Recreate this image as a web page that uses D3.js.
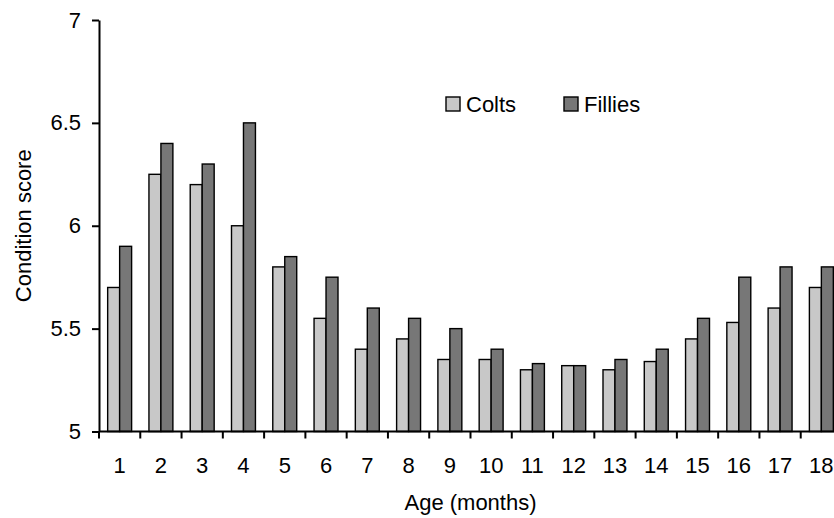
<!DOCTYPE html>
<html>
<head>
<meta charset="utf-8">
<script src="https://cdn.jsdelivr.net/npm/d3@7"></script>
<style>
  html, body { margin: 0; padding: 0; background: #fff; }
  svg { display: block; font-family: "Liberation Sans", Arial, sans-serif; }
</style>
</head>
<body>
<svg id="chart" width="834" height="518"></svg>
<script>
const categories = ["1","2","3","4","5","6","7","8","9","10","11","12","13","14","15","16","17","18"];
const seriesNames = ["Colts", "Fillies"];
const colts   = [5.70, 6.25, 6.20, 6.00, 5.80, 5.55, 5.40, 5.45, 5.35, 5.35, 5.30, 5.32, 5.30, 5.34, 5.45, 5.53, 5.60, 5.70];
const fillies = [5.90, 6.40, 6.30, 6.50, 5.85, 5.75, 5.60, 5.55, 5.50, 5.40, 5.33, 5.32, 5.35, 5.40, 5.55, 5.75, 5.80, 5.80];
const yTicks = [5, 5.5, 6, 6.5, 7];
const colors = ["#c8c8c8", "#777777"];

const svg = d3.select("#chart");
const mLeft = 99, mRight = 842, mTop = 20, mBottom = 431.5;
const fontSize = 22;

const x = d3.scaleBand().domain(categories).range([mLeft, mRight]).padding(0);
const x1 = d3.scaleBand().domain(seriesNames).range([x.bandwidth() * 0.21, x.bandwidth() * 0.79]).padding(0);
const y = d3.scaleLinear().domain([5, 7]).range([mBottom, mTop]);

const data = categories.map((c, i) => ({ cat: c, values: [colts[i], fillies[i]] }));

// bars
const groups = svg.append("g").selectAll("g").data(data).join("g")
  .attr("transform", d => `translate(${x(d.cat)},0)`);
groups.selectAll("rect").data(d => d.values.map((v, j) => ({ s: seriesNames[j], v, j })))
  .join("rect")
  .attr("x", d => x1(d.s))
  .attr("width", x1.bandwidth())
  .attr("y", d => y(d.v))
  .attr("height", d => y(5) - y(d.v))
  .attr("fill", d => colors[d.j])
  .attr("stroke", "#000")
  .attr("stroke-width", 1.4);

// y axis
const yAxis = svg.append("g").attr("transform", `translate(${mLeft},0)`)
  .call(d3.axisLeft(y).tickValues(yTicks).tickFormat(d3.format("~g")).tickSize(7).tickPadding(11).tickSizeOuter(0));
yAxis.select(".domain").attr("stroke", "#000").attr("stroke-width", 2);
yAxis.selectAll(".tick line").attr("stroke", "#000").attr("stroke-width", 2);
yAxis.selectAll("text").attr("font-size", fontSize).attr("fill", "#000").attr("font-family", "Liberation Sans, Arial, sans-serif");

// x axis
const xg = svg.append("g").attr("transform", `translate(0,${mBottom})`);
xg.append("line").attr("x1", mLeft).attr("x2", mRight).attr("y1", 0).attr("y2", 0)
  .attr("stroke", "#000").attr("stroke-width", 2);
const boundaries = categories.map(c => x(c)).concat([x(categories[categories.length - 1]) + x.bandwidth()]);
xg.selectAll("line.tk").data(boundaries).join("line").attr("class", "tk")
  .attr("x1", d => d).attr("x2", d => d).attr("y1", 0).attr("y2", 7)
  .attr("stroke", "#000").attr("stroke-width", 2);
xg.selectAll("text").data(categories).join("text")
  .attr("x", d => x(d) + x.bandwidth() / 2)
  .attr("y", 41)
  .attr("text-anchor", "middle")
  .attr("font-size", fontSize)
  .attr("fill", "#000")
  .text(d => d);

// axis titles
svg.append("text")
  .attr("x", (mLeft + mRight) / 2).attr("y", 510)
  .attr("text-anchor", "middle").attr("font-size", fontSize).attr("fill", "#000")
  .text("Age (months)");
svg.append("text")
  .attr("transform", `translate(31,${(mTop + mBottom) / 2}) rotate(-90)`)
  .attr("text-anchor", "middle").attr("font-size", fontSize).attr("fill", "#000")
  .text("Condition score");

// legend
const legendX = [446, 564];
const legend = svg.append("g");
seriesNames.forEach((s, i) => {
  legend.append("rect").attr("x", legendX[i]).attr("y", 97).attr("width", 14).attr("height", 14)
    .attr("fill", colors[i]).attr("stroke", "#000").attr("stroke-width", 1.4);
  legend.append("text").attr("x", legendX[i] + 20).attr("y", 112)
    .attr("font-size", fontSize).attr("fill", "#000").text(s);
});
</script>
</body>
</html>
